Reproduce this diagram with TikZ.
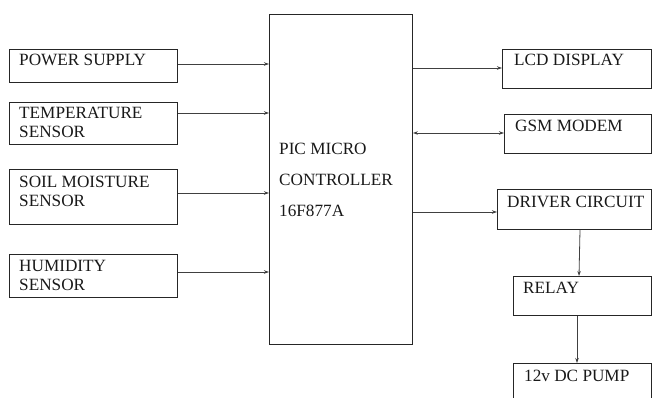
\documentclass[tikz,border=0pt]{standalone}
\usepackage{fontspec}
\setmainfont{Liberation Serif}
\usetikzlibrary{arrows.meta,calc}
\tikzset{
  blk/.style={draw=black!85,line width=0.9pt,rectangle,inner sep=0pt,anchor=north west},
  txt/.style={anchor=base west,inner sep=0pt,font=\fontsize{17.2}{19}\selectfont,text=black!90},
  arr/.style={draw=black!75,line width=0.8pt,-{Stealth[length=5pt,width=3.5pt]}},
  darr/.style={draw=black!75,line width=0.8pt,{Stealth[length=5pt,width=3.5pt]}-{Stealth[length=5pt,width=3.5pt]}},
}
\begin{document}
\begin{tikzpicture}[x=1pt,y=-1pt]
\useasboundingbox (0,0) rectangle (652,398);
\clip (0,0) rectangle (652,398);
% left blocks
\node[blk,minimum width=168pt,minimum height=33pt] (ps) at (9,49) {};
\node[blk,minimum width=168pt,minimum height=42pt] (temp) at (9,102) {};
\node[blk,minimum width=168pt,minimum height=55pt] (soil) at (9,169) {};
\node[blk,minimum width=168pt,minimum height=43pt] (hum) at (9,254) {};
% controller
\node[blk,minimum width=143pt,minimum height=330pt] (pic) at (269,14) {};
% right blocks
\node[blk,minimum width=148.5pt,minimum height=39pt] (lcd) at (502,49) {};
\node[blk,minimum width=146.5pt,minimum height=39pt] (gsm) at (504,114) {};
\node[blk,minimum width=153.5pt,minimum height=40pt] (drv) at (497,189) {};
\node[blk,minimum width=137.5pt,minimum height=39pt] (rly) at (513,276) {};
\node[blk,minimum width=137.5pt,minimum height=50pt] (pump) at (513,363) {};
% texts
\node[txt] (tps) at (19,66) {POWER SUPPLY};
\node[txt] (tt1) at (19,119) {TEMPERATURE};
\node[txt] (tt2) at (19,138) {SENSOR};
\node[txt] (ts1) at (19,187) {SOIL MOISTURE};
\node[txt] (ts2) at (19,206) {SENSOR};
\node[txt] (th1) at (19,271) {HUMIDITY};
\node[txt] (th2) at (19,290) {SENSOR};
\node[txt] (tp1) at (279,154) {PIC MICRO};
\node[txt] (tp2) at (279,185) {CONTROLLER};
\node[txt] (tp3) at (279,216) {16F877A};
\node[txt] (tl) at (514,66) {LCD DISPLAY};
\node[txt] (tg) at (515,132) {GSM MODEM};
\node[txt] (td) at (507,207) {DRIVER CIRCUIT};
\node[txt] (tr) at (523,293) {RELAY};
\node[txt] (tpu) at (524,381) {12v DC PUMP};
% connectors
\draw[arr] (ps.east |- 0,64) -- (pic.west |- 0,64);
\draw[arr] (temp.east |- 0,113) -- (pic.west |- 0,113);
\draw[arr] (soil.east |- 0,193) -- (pic.west |- 0,193);
\draw[arr] (hum.east |- 0,272) -- (pic.west |- 0,272);
\draw[arr] (pic.east |- 0,68) -- (lcd.west |- 0,68);
\draw[darr] (pic.east |- 0,133) -- (gsm.west |- 0,133);
\draw[arr] (pic.east |- 0,212) -- (drv.west |- 0,212);
\draw[arr] (drv.south -| 580,0) -- (rly.north -| 579,0);
\draw[arr] (rly.south -| 577,0) -- (pump.north -| 577,0);
\end{tikzpicture}
\end{document}
